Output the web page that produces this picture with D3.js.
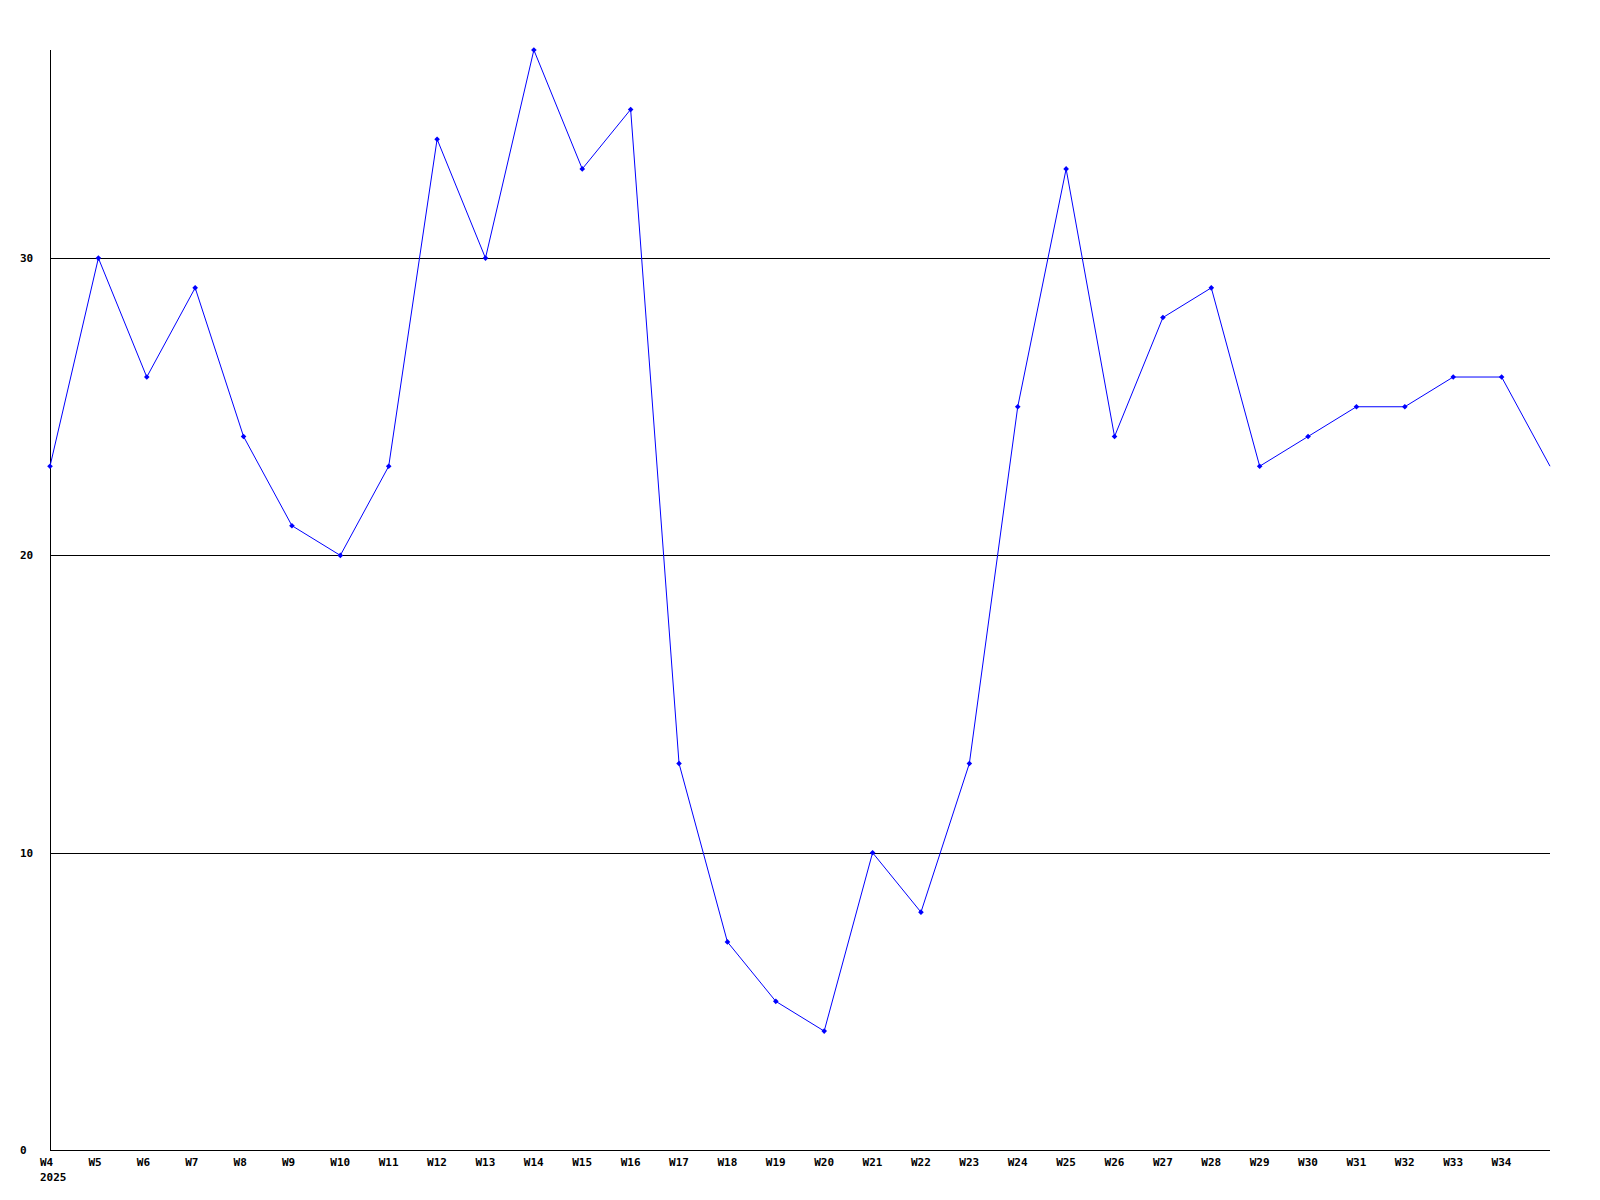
<!DOCTYPE html>
<html><head><meta charset="utf-8">
<script src="https://cdn.jsdelivr.net/npm/d3@7"></script>
<style>body{margin:0;background:#fff}svg{display:block}text{font-family:"DejaVu Sans Mono",monospace;font-weight:bold;font-size:11px;fill:#000}</style>
</head><body>
<script>
const weeks = ["W4","W5","W6","W7","W8","W9","W10","W11","W12","W13","W14","W15","W16","W17","W18","W19","W20","W21","W22","W23","W24","W25","W26","W27","W28","W29","W30","W31","W32","W33","W34","W35"];
const values = [23,30,26,29,24,21,20,23,34,30,37,33,35,13,7,5,4,10,8,13,25,33,24,28,29,23,24,25,25,26,26,23];
const yTicks = [0,10,20,30];
const yearLabel = "2025";

const W = 1600, H = 1200;
const mLeft = 50, mRight = 1550, mTop = 50, mBottom = 1150;
const svg = d3.select("body").append("svg").attr("width", W).attr("height", H);
const x = d3.scaleLinear().domain([0, weeks.length - 1]).range([mLeft, mRight]);
const y = d3.scaleLinear().domain([0, 37]).range([mBottom, mTop]);

// gridlines
svg.selectAll("line.grid").data(yTicks.filter(d => d > 0)).enter().append("line")
  .attr("x1", mLeft).attr("x2", mRight).attr("y1", d => Math.round(y(d)) + 0.5).attr("y2", d => Math.round(y(d)) + 0.5)
  .attr("stroke", "#000").attr("stroke-width", 1).attr("shape-rendering", "crispEdges");
// axes
svg.append("line").attr("x1", mLeft + 0.5).attr("x2", mLeft + 0.5).attr("y1", mTop).attr("y2", mBottom)
  .attr("stroke", "#000").attr("shape-rendering", "crispEdges");
svg.append("line").attr("x1", mLeft).attr("x2", mRight).attr("y1", mBottom + 0.5).attr("y2", mBottom + 0.5)
  .attr("stroke", "#000").attr("shape-rendering", "crispEdges");

// y labels
svg.selectAll("text.ylab").data(yTicks).enter().append("text")
  .attr("x", 20).attr("y", d => y(d)).attr("dy", "0.35em").text(d => d);
// x labels (last category not labelled)
svg.selectAll("text.xlab").data(weeks.slice(0, weeks.length - 1)).enter().append("text")
  .attr("x", (d, i) => x(i) - 10).attr("y", mBottom + 12).attr("dy", "0.35em").text(d => d);
svg.append("text").attr("x", x(0) - 10).attr("y", mBottom + 27).attr("dy", "0.35em").text(yearLabel);

// line
const line = d3.line().x((d, i) => x(i)).y(d => y(d));
svg.append("path").datum(values).attr("d", line).attr("fill", "none").attr("stroke", "#0000ff").attr("stroke-width", 1);
// markers
svg.selectAll("path.m").data(values.slice(0, values.length - 1)).enter().append("path")
  .attr("d", "M-2.8,0L0,-2.8L2.8,0L0,2.8Z")
  .attr("transform", (d, i) => `translate(${x(i)},${y(d)})`)
  .attr("fill", "#0000ff");
</script>
</body></html>
